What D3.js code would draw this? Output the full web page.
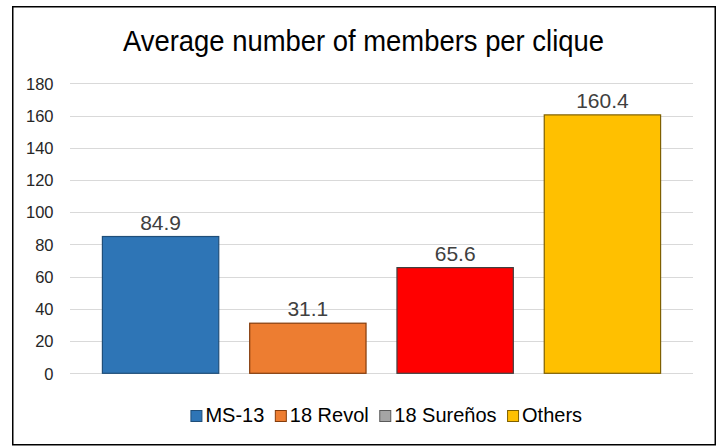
<!DOCTYPE html>
<html>
<head>
<meta charset="utf-8">
<script src="https://cdn.jsdelivr.net/npm/d3@7"></script>
<style>
  html, body { margin: 0; padding: 0; background: #fff; }
  svg { display: block; font-family: "Liberation Sans", Arial, sans-serif; }
</style>
</head>
<body>
<svg id="chart" width="719" height="447"></svg>
<script>
// ---- data ----
const categories = ["MS-13", "18 Revol", "18 Sureños", "Others"];
const values = [84.9, 31.1, 65.6, 160.4];
const barColors = ["#2E75B6", "#ED7D31", "#FF0000", "#FFC000"];
const barStrokes = ["#1F4E79", "#843C0C", "#404040", "#7F6000"];
const legendColors = ["#2E75B6", "#ED7D31", "#A5A5A5", "#FFC000"];
const legendStrokes = ["#1F4E79", "#843C0C", "#595959", "#7F6000"];
const yTicks = [0, 20, 40, 60, 80, 100, 120, 140, 160, 180];
const title = "Average number of members per clique";

// ---- layout ----
const svg = d3.select("#chart");
const plot = { left: 70, right: 693, top: 83.3, bottom: 373.3 };

svg.append("rect")
  .attr("x", 12.75).attr("y", 6.75)
  .attr("width", 702.5).attr("height", 438)
  .attr("fill", "#fff").attr("stroke", "#000").attr("stroke-width", 1.5);

const x = d3.scaleBand()
  .domain(categories)
  .range([plot.left, plot.right])
  .paddingInner(0.21)
  .paddingOuter(0.22);

const y = d3.scaleLinear()
  .domain([0, 180])
  .range([plot.bottom, plot.top]);

// title
svg.append("text")
  .attr("x", 363.5).attr("y", 51)
  .attr("text-anchor", "middle")
  .attr("font-size", 29)
  .attr("fill", "#000")
  .attr("textLength", 481)
  .attr("lengthAdjust", "spacingAndGlyphs")
  .text(title);

// gridlines
svg.append("g")
  .selectAll("line")
  .data(yTicks)
  .join("line")
  .attr("x1", plot.left).attr("x2", plot.right)
  .attr("y1", d => Math.round(y(d)) + 0.5)
  .attr("y2", d => Math.round(y(d)) + 0.5)
  .attr("stroke", "#D9D9D9")
  .attr("stroke-width", 1);

// y axis labels
const yAxis = d3.axisLeft(y).tickValues(yTicks).tickSize(0).tickPadding(0);
const gy = svg.append("g")
  .attr("transform", `translate(53.5,0)`)
  .call(yAxis);
gy.select(".domain").remove();
gy.selectAll("text")
  .attr("font-size", 16.5)
  .attr("font-family", "'Liberation Sans', Arial, sans-serif")
  .attr("fill", "#262626")
  .attr("dy", "0.35em");

// bars
svg.append("g")
  .selectAll("rect")
  .data(values)
  .join("rect")
  .attr("x", (d, i) => x(categories[i]))
  .attr("y", d => y(d))
  .attr("width", x.bandwidth())
  .attr("height", d => y(0) - y(d))
  .attr("fill", (d, i) => barColors[i])
  .attr("stroke", (d, i) => barStrokes[i])
  .attr("stroke-width", 1.2);

// data labels
svg.append("g")
  .selectAll("text")
  .data(values)
  .join("text")
  .attr("x", (d, i) => x(categories[i]) + x.bandwidth() / 2)
  .attr("y", d => y(d) - 7)
  .attr("text-anchor", "middle")
  .attr("font-size", 21)
  .attr("fill", "#404040")
  .text(d => d.toFixed(1));

// legend
const legend = svg.append("g");
const items = legend.selectAll("g")
  .data(categories)
  .join("g");
items.append("rect")
  .attr("x", 0).attr("y", -11.5)
  .attr("width", 11).attr("height", 11)
  .attr("fill", (d, i) => legendColors[i])
  .attr("stroke", (d, i) => legendStrokes[i])
  .attr("stroke-width", 1);
items.append("text")
  .attr("x", 14.5).attr("y", 0)
  .attr("font-size", 20)
  .attr("fill", "#000")
  .text(d => d);
let cx = 0;
const gap = 11;
items.each(function () {
  const g = d3.select(this);
  g.attr("transform", `translate(${cx},0)`);
  const w = g.select("text").node().getComputedTextLength();
  cx += 14.5 + w + gap;
});
const totalW = cx - gap;
legend.attr("transform", `translate(${386.5 - totalW / 2},422)`);
</script>
</body>
</html>
